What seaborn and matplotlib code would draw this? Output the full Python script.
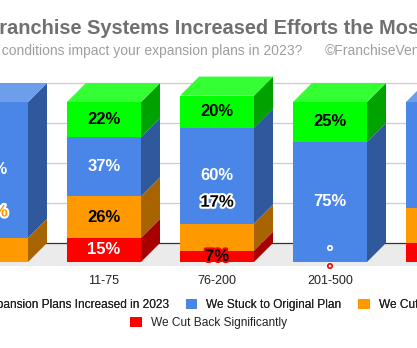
import numpy as np
import pandas as pd
import seaborn as sns
import matplotlib.pyplot as plt
import matplotlib.patheffects as pe
from matplotlib.patches import Polygon, Patch

# ---- data -------------------------------------------------------------
categories = ["1-10 Units", "11-75", "76-200", "201-500", "More than 500 Units"]
series_names = [
    "Our Expansion Plans Increased in 2023",
    "We Stuck to Original Plan",
    "We Cut Back Slightly",
    "We Cut Back Significantly",
]
increased = [0, 22, 20, 25, 0]
stuck = [85, 37, 60, 75, 66]
cut_slightly = [15, 26, 17, 0, 22]
cut_significantly = [0, 15, 7, 0, 12]

title = "Franchise Systems Increased Efforts the Most"
question = "How did economic conditions impact your expansion plans in 2023?"
credit = "\u00a9FranchiseVentures"

# ---- styling ----------------------------------------------------------
front = ["#00FF00", "#4A86E8", "#FF9900", "#FF0000"]
top_face = ["#33FF33", "#6D9EEB", "#FFAD33", "#FF3333"]
side_face = ["#00A200", "#30589C", "#A86400", "#A80000"]
label_color = ["black", "white", "black", "white"]

W, H = 417, 348
PX_CAT = 113.0          # pixels between category centres
X0_PX = -9.0            # pixel position of the first category centre
PX_UNIT = 1.6           # pixels per percentage point
BASE_PX = 262.0         # pixel row of the front baseline
AX_TOP, AX_BOT = 70.0, 268.0
BAR_W = 74.0 / PX_CAT
DX = 19.0 / PX_CAT      # depth offset (right)
DY = 19.0 / PX_UNIT     # depth offset (up)

sns.set_style("white")
plt.rcParams["font.family"] = ["Liberation Sans", "DejaVu Sans"]

fig = plt.figure(figsize=(W / 100, H / 100), dpi=100)
ax = fig.add_axes([0, (H - AX_BOT) / H, 1, (AX_BOT - AX_TOP) / H])

series = [increased, stuck, cut_slightly, cut_significantly]
vals = np.array(series, dtype=float)           # rows: series (top -> bottom)
# stacking from the bottom: significantly, slightly, stuck, increased
bottoms = np.zeros_like(vals)
for s in range(len(series) - 2, -1, -1):
    bottoms[s] = bottoms[s + 1] + vals[s + 1]
tops = bottoms + vals
totals = tops[0]

# back wall: floor, baseline and gridlines
xl = (0 - X0_PX) / PX_CAT
xr = (W - X0_PX) / PX_CAT
ax.axhspan((BASE_PX - 266) / PX_UNIT, DY, color="#EBEBEB", zorder=0, lw=0)
for k in range(1, 5):
    ax.axhline(DY + 25 * k, color="#CCCCCC", lw=0.9, zorder=1)
ax.axhline(DY, color="#333333", lw=0.9, zorder=1)

# front faces: cumulative stacks drawn tallest first
for s in range(len(series)):
    df = pd.DataFrame({"category": categories, "value": tops[s]})
    sns.barplot(data=df, x="category", y="value", color=front[s],
                saturation=1, width=BAR_W, errorbar=None, ax=ax,
                linewidth=0, zorder=3)

# side and top faces
for i in range(len(categories)):
    xr_edge = i + BAR_W / 2
    xl_edge = i - BAR_W / 2
    for s in range(len(series)):
        b, t = bottoms[s, i], tops[s, i]
        if t - b <= 0:
            continue
        ax.add_patch(Polygon([(xr_edge, b), (xr_edge + DX, b + DY),
                              (xr_edge + DX, t + DY), (xr_edge, t)],
                             closed=True, facecolor=side_face[s], lw=0, zorder=3))
    top_s = next(s for s in range(len(series)) if vals[s, i] > 0)
    T = totals[i]
    ax.add_patch(Polygon([(xl_edge, T), (xr_edge, T), (xr_edge + DX, T + DY),
                          (xl_edge + DX, T + DY)],
                         closed=True, facecolor=top_face[top_s], lw=0, zorder=3))

# value labels
nudges = {(0, 2): (38, "#FF9900"), (2, 2): (35, "black")}
for i in range(len(categories)):
    for s in range(len(series)):
        v = vals[s, i]
        if v <= 0:
            continue
        y = bottoms[s, i] + v / 2
        color = label_color[s]
        effects = None
        if (i, s) in nudges:
            up, color = nudges[(i, s)]
            y += up / PX_UNIT
            effects = [pe.withStroke(linewidth=3, foreground="white")]
        elif v * PX_UNIT < 16:
            color = "black"
            effects = [pe.withStroke(linewidth=3, foreground=front[s])]
        ax.text(i, y, f"{int(v)}%", ha="center", va="center", color=color,
                fontsize=12, fontweight="bold", zorder=5, path_effects=effects)

# empty lower segments leave a small ring where their label would sit
ring_offsets = {2: (8.75, "white"), 3: (-2.5, "#FF0000")}
for i in range(len(categories)):
    if totals[i] <= 0:
        continue
    for s, (off, col) in ring_offsets.items():
        if vals[s, i] == 0 and bottoms[s, i] == 0 and vals[0, i] > 0:
            ax.scatter([i], [bottoms[s, i] + off], s=10, facecolors="none",
                       edgecolors=col, linewidths=1.2, zorder=6, clip_on=False)

ax.set_xlim(xl, xr)
ax.set_ylim((BASE_PX - AX_BOT) / PX_UNIT, (BASE_PX - AX_TOP) / PX_UNIT)
ax.set_yticks([])
ax.set_xlabel("")
ax.set_ylabel("")
ax.tick_params(axis="x", length=0, pad=5, labelsize=9, labelcolor="#222222")
for sp in ax.spines.values():
    sp.set_visible(False)
ax.patch.set_alpha(0)

# titles
fig.text(206 / W, 1 - 28 / H, title, ha="center", va="center",
         fontsize=14.4, fontweight="bold", color="#707070")
fig.text(302 / W, 1 - 51 / H, question, ha="right", va="center",
         fontsize=10, color="#9E9E9E")
fig.text(325 / W, 1 - 51 / H, credit, ha="left", va="center",
         fontsize=10, color="#9E9E9E")

# legend: three entries on the first row, one centred below
handles = [Patch(facecolor=c, edgecolor="none") for c in front]
leg_kw = dict(frameon=False, fontsize=8.6, handlelength=1.0, handleheight=1.0,
              handletextpad=0.75, columnspacing=1.35, borderpad=0,
              labelcolor="#222222")
leg1 = fig.legend(handles[:3], series_names[:3], ncol=3, loc="center",
                  bbox_to_anchor=(214.5 / W, 1 - 305 / H), **leg_kw)
fig.add_artist(leg1)
fig.legend(handles[3:], series_names[3:], ncol=1, loc="center",
           bbox_to_anchor=(208.5 / W, 1 - 323 / H), **leg_kw)

fig.savefig("out.png", dpi=100, facecolor="white")
